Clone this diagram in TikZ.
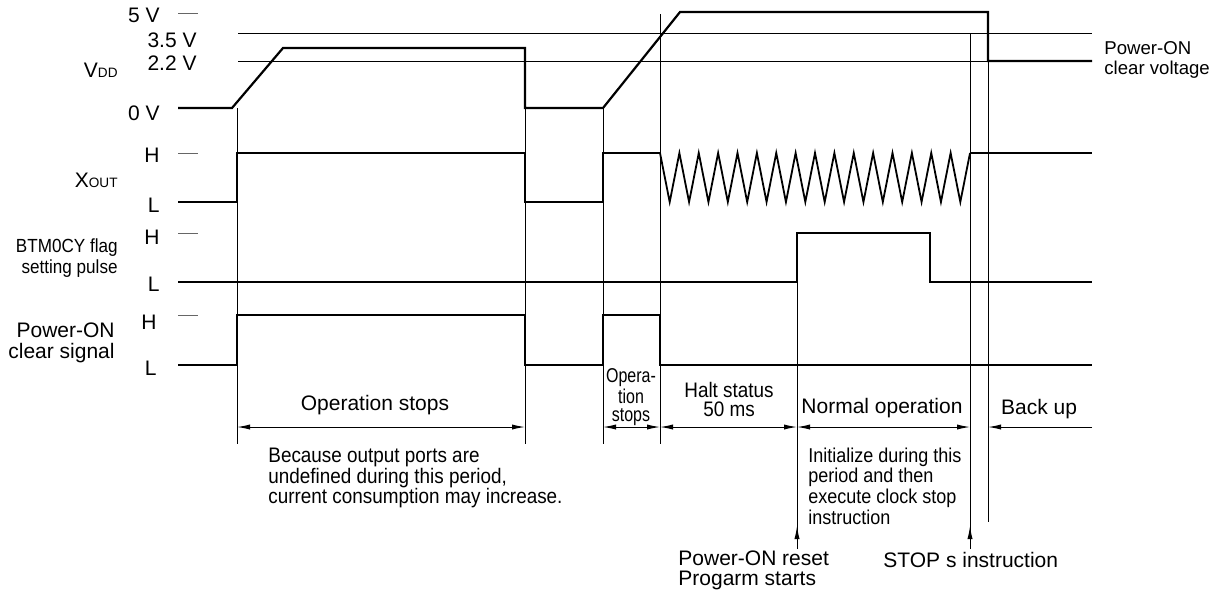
\documentclass[tikz,border=0pt]{standalone}
\usepackage{fontspec}
\setmainfont{Liberation Sans}
\newfontfamily\condfont[FakeStretch=0.9]{Liberation Sans}
\newfontfamily\narrowfont[FakeStretch=0.8]{Liberation Sans}
\usepackage{tikz}
\usetikzlibrary{arrows.meta}

\begin{document}
\begin{tikzpicture}[
    x=0.5pt, y=-0.5pt,
    every node/.style={inner sep=0pt, font=\fontsize{10.5}{10.5}\selectfont},
    lvl/.style={anchor=east},
    sig/.style={line width=1.1pt},
    thin/.style={line width=0.5pt},
    tickline/.style={line width=0.5pt, black!60},
    dim/.style={{Latex[length=6.5pt,width=2.6pt]}-{Latex[length=6.5pt,width=2.6pt]}, line width=0.5pt},
    larr/.style={-{Latex[length=6.5pt,width=2.6pt]}, line width=0.5pt},
    note/.style={align=left, anchor=west, font=\condfont\fontsize{10}{10.3}\selectfont},
]
    \useasboundingbox (0,0) rectangle (1220,602);

    % Level labels
    \node[lvl] (v5) at (160,15) {5 V};
    \node[lvl] (v35) at (197,40) {3.5 V};
    \node[lvl] (v22) at (197,63) {2.2 V};
    \node[lvl] (vdd) at (118,70) {V{\fontsize{6.8}{6.8}\selectfont DD}};
    \node[lvl] (v0) at (160,113) {0 V};
    \node[lvl] (xh) at (160,155) {H};
    \node[lvl] (xout) at (118,180) {X{\fontsize{6.8}{6.8}\selectfont OUT}};
    \node[lvl] (xl) at (160,205) {L};
    \node[lvl] (bh) at (160,237) {H};
    \node[lvl, align=right, font=\condfont\fontsize{9.5}{10.5}\selectfont] (btm) at (118,258) {BTM0CY flag\\setting pulse};
    \node[lvl] (bl) at (160,284) {L};
    \node[lvl] (ph) at (157,322) {H};
    \node[lvl, align=right] (poc) at (115,343) {Power-ON\\clear signal};
    \node[lvl] (pl) at (157,368) {L};
    \node[anchor=west, align=left, font=\fontsize{9.3}{10}\selectfont] (pocv) at (1104,60) {Power-ON\\clear voltage};

    % Ticks and guide lines
    \foreach \y in {13,153,233,315} \draw[tickline] (178,\y) -- (198,\y);
    \draw[thin] (238,33) -- (1092,33);
    \draw[thin] (238,61) -- (1092,61);

    % Time markers
    \draw[thin] (237,108) -- (237,444);
    \draw[thin] (525,108) -- (525,444);
    \draw[thin] (603,108) -- (603,444);
    \draw[thin] (660,14) -- (660,444);
    \draw[thin] (797,282) -- (797,549);
    \draw[thin] (970,33) -- (970,549);
    \draw[thin] (988,61) -- (988,522);

    % VDD
    \draw[sig] (178,108) -- (232,108) -- (283,48) -- (525,48) -- (525,108) -- (603,108)
        -- (680,12) -- (988,12) -- (988,61) -- (1092,61);
    % XOUT
    \draw[sig] (178,202) -- (237,202) -- (237,153) -- (525,153) -- (525,202) -- (603,202)
        -- (603,153) -- (660,153);
    \draw[line width=0.9pt] (660,153) \foreach \k in {0,...,15}{
        -- ({669.69+19.375*\k},202) -- ({679.375+19.375*\k},153) };
    \draw[sig] (971,153) -- (1092,153);
    % BTM0CY
    \draw[sig] (178,282) -- (797,282) -- (797,233) -- (930,233) -- (930,282) -- (1092,282);
    % Power-ON clear signal
    \draw[sig] (178,365) -- (237,365) -- (237,315) -- (525,315) -- (525,365) -- (603,365)
        -- (603,315) -- (660,315) -- (660,365) -- (1092,365);

    % Periods
    \coordinate (d0) at (237,427);
    \coordinate (d1) at (525,427);
    \coordinate (d2) at (603,427);
    \coordinate (d3) at (660,427);
    \coordinate (d4) at (797,427);
    \coordinate (d5) at (970,427);
    \coordinate (d6) at (988,427);
    \coordinate (d7) at (1092,427);
    \draw[dim] (d0) -- (d1);
    \draw[dim] (d2) -- (d3);
    \draw[dim] (d3) -- (d4);
    \draw[dim] (d4) -- (d5);
    \draw[larr] (d7) -- (d6);

    \node (ops) at (375,405) {Operation stops};
    \node[align=center, font=\narrowfont\fontsize{10}{9}\selectfont] (ops2) at (631,397) {Opera-\\tion\\stops};
    \node[align=center, font=\condfont\fontsize{10.5}{9.5}\selectfont] (halt) at (729,399) {Halt status\\50 ms};
    \node (normal) at (882,408) {Normal operation};
    \node (backup) at (1039,409) {Back up};

    \node[note, font=\condfont\fontsize{10.5}{10.35}\selectfont] (because) at (268,478)
        {Because output ports are\\undefined during this period,\\current consumption may increase.};
    \node[note] (init) at (808,486)
        {Initialize during this\\period and then\\execute clock stop\\instruction};

    % Events
    \coordinate (rst0) at (797,549);
    \coordinate (rst1) at (797,526);
    \coordinate (stp0) at (970,549);
    \coordinate (stp1) at (970,526);
    \draw[larr] (rst0) -- (rst1);
    \draw[larr] (stp0) -- (stp1);
    \node[anchor=west, align=left, font=\fontsize{10.5}{10}\selectfont] (reset) at (678,570) {Power-ON reset\\Progarm starts};
    \node[anchor=west] (stop) at (883,560) {STOP s instruction};
\end{tikzpicture}
\end{document}
